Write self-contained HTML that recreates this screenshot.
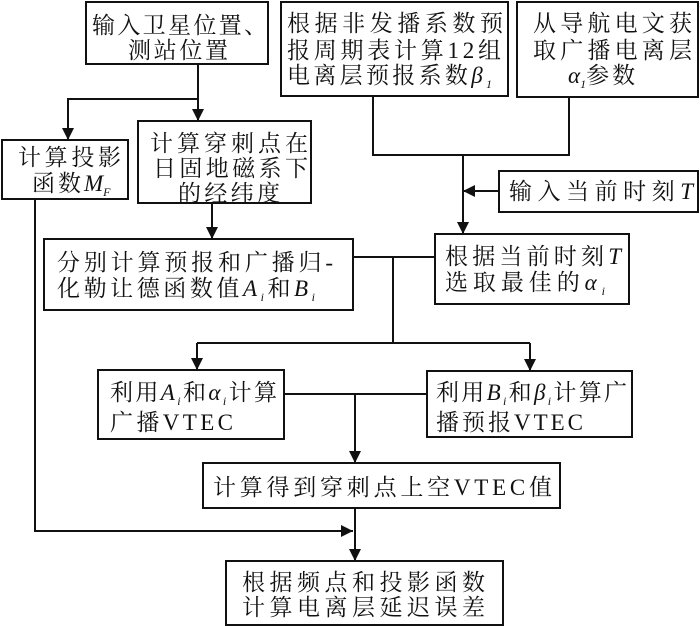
<!DOCTYPE html>
<html><head><meta charset="utf-8"><style>
html,body{margin:0;padding:0;background:#fff;}
svg{display:block;}
text{font-family:"Liberation Serif","Noto Serif CJK SC","Noto Sans CJK SC",serif;font-size:23px;fill:#111;}
.v{font-style:italic;}
.s{font-style:italic;font-size:12px;}
</style></head><body>
<svg width="700" height="626" viewBox="0 0 700 626" xmlns="http://www.w3.org/2000/svg">
<defs><marker id="a" viewBox="0 0 10 10" refX="10" refY="5" markerWidth="6" markerHeight="6" orient="auto"><path d="M0,0L10,5L0,10z" fill="#111"/></marker></defs>
<g fill="none" stroke="#111" stroke-width="2">
<rect x="86" y="2" width="182" height="62"/>
<rect x="281" y="2" width="227" height="94"/>
<rect x="517" y="2" width="181" height="95"/>
<rect x="2" y="140" width="126" height="59"/>
<rect x="138" y="121" width="173" height="82"/>
<rect x="44" y="239" width="309" height="71"/>
<rect x="499" y="171" width="199" height="41"/>
<rect x="435" y="234" width="194" height="70"/>
<rect x="98" y="370" width="186" height="69"/>
<rect x="427" y="371" width="205" height="66"/>
<rect x="203" y="463" width="357" height="45"/>
<rect x="226" y="561" width="277" height="64"/>
<path d="M198 64V99H68V140" marker-end="url(#a)"/>
<path d="M198 99V121" marker-end="url(#a)"/>
<path d="M212 203V239" marker-end="url(#a)"/>
<path d="M373 96V155H569V97"/>
<path d="M463 155V234" marker-end="url(#a)"/>
<path d="M499 191H463" marker-end="url(#a)"/>
<path d="M353 257H435"/>
<path d="M393 257V343"/>
<path d="M197 343H530"/>
<path d="M197 343V370" marker-end="url(#a)"/>
<path d="M530 343V371" marker-end="url(#a)"/>
<path d="M284 394H427"/>
<path d="M355 394V463" marker-end="url(#a)"/>
<path d="M355 508V561" marker-end="url(#a)"/>
<path d="M35 199V531H353" marker-end="url(#a)"/>
</g>
<text x="92" y="33" textLength="175" lengthAdjust="spacing">输入卫星位置、</text>
<text x="128" y="58" textLength="100" lengthAdjust="spacing">测站位置</text>
<text x="287" y="31" textLength="216" lengthAdjust="spacing">根据非发播系数预</text>
<text x="287" y="58" textLength="214" lengthAdjust="spacing">报周期表计算12组</text>
<text x="287" y="83" textLength="205" lengthAdjust="spacing">电离层预报系数<tspan class="v">β</tspan><tspan class="s" dy="5">1</tspan></text>
<text x="533" y="31" textLength="159" lengthAdjust="spacing">从导航电文获</text>
<text x="533" y="58" textLength="159" lengthAdjust="spacing">取广播电离层</text>
<text x="568" y="83"><tspan class="v">α</tspan><tspan class="s" dy="5">1</tspan><tspan dy="-5" letter-spacing="3">参数</tspan></text>
<text x="18" y="165" textLength="103" lengthAdjust="spacing">计算投影</text>
<text x="32" y="191" letter-spacing="3">函数<tspan class="v" letter-spacing="0">M</tspan><tspan class="s" dy="5">F</tspan></text>
<text x="150" y="151" textLength="158" lengthAdjust="spacing">计算穿刺点在</text>
<text x="153" y="176" textLength="155" lengthAdjust="spacing">日固地磁系下</text>
<text x="178" y="201" textLength="102" lengthAdjust="spacing">的经纬度</text>
<text x="57" y="270" textLength="276" lengthAdjust="spacing">分别计算预报和广播归-</text>
<text x="57" y="296" textLength="258" lengthAdjust="spacing">化勒让德函数值<tspan class="v">A</tspan><tspan class="s" dy="5">i</tspan><tspan dy="-5">和</tspan><tspan class="v">B</tspan><tspan class="s" dy="5">i</tspan></text>
<text x="509" y="199" textLength="184" lengthAdjust="spacing">输入当前时刻<tspan class="v">T</tspan></text>
<text x="445" y="264" textLength="176" lengthAdjust="spacing">根据当前时刻<tspan class="v">T</tspan></text>
<text x="445" y="290" textLength="160" lengthAdjust="spacing">选取最佳的<tspan class="v">α</tspan><tspan class="s" dy="5">i</tspan></text>
<text x="110" y="400" textLength="167" lengthAdjust="spacing">利用<tspan class="v">A</tspan><tspan class="s" dy="5">i</tspan><tspan dy="-5">和</tspan><tspan class="v">α</tspan><tspan class="s" dy="5">i</tspan><tspan dy="-5">计算</tspan></text>
<text x="110" y="430" textLength="123" lengthAdjust="spacing">广播VTEC</text>
<text x="436" y="400" textLength="191" lengthAdjust="spacing">利用<tspan class="v">B</tspan><tspan class="s" dy="5">i</tspan><tspan dy="-5">和</tspan><tspan class="v">β</tspan><tspan class="s" dy="5">i</tspan><tspan dy="-5">计算广</tspan></text>
<text x="436" y="430" textLength="147" lengthAdjust="spacing">播预报VTEC</text>
<text x="213" y="495" textLength="339" lengthAdjust="spacing">计算得到穿刺点上空VTEC值</text>
<text x="242" y="590" textLength="243" lengthAdjust="spacing">根据频点和投影函数</text>
<text x="242" y="615" textLength="243" lengthAdjust="spacing">计算电离层延迟误差</text>
</svg>
</body></html>
